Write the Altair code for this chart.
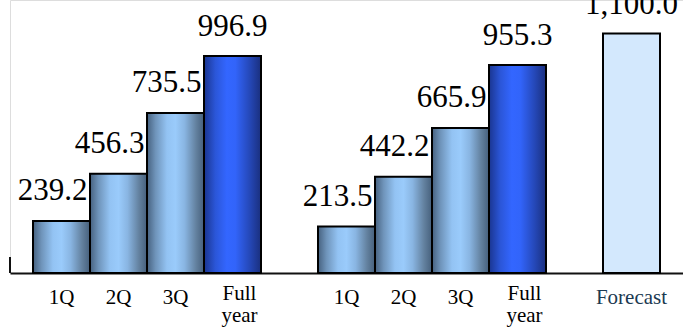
import json

import altair as alt
import pandas as pd

# Slots along the x axis: two years of cumulative quarters, a spacer after each,
# then the forecast column.
slots = ["q1_a", "q2_a", "q3_a", "fy_a", "gap_a",
         "q1_b", "q2_b", "q3_b", "fy_b", "gap_b", "fc"]
tick_labels = ["1Q", "2Q", "3Q", "Full year", "",
               "1Q", "2Q", "3Q", "Full year", "", "Forecast"]
values = [239.2, 456.3, 735.5, 996.9, None,
          213.5, 442.2, 665.9, 955.3, None, 1100.0]
kinds = ["quarter", "quarter", "quarter", "total", "",
         "quarter", "quarter", "quarter", "total", "", "forecast"]

# short vertical stub at the left end of the baseline
stub = [0, 73.5]

df = pd.DataFrame({"slot": slots, "value": values, "kind": kinds})
df = df[df["kind"] != ""]

FONT = "Times New Roman, Liberation Serif, DejaVu Serif, serif"

label_map = json.dumps(dict(zip(slots, tick_labels)))
is_full_year = "datum.value == 'fy_a' || datum.value == 'fy_b'"

x_enc = alt.X(
    "slot:N",
    sort=slots,
    scale=alt.Scale(domain=slots, paddingInner=0, paddingOuter=23 / 57),
    axis=alt.Axis(
        title=None,
        ticks=False,
        domain=True,
        domainColor="#111111",
        domainWidth=2,
        labelAngle=0,
        labelFont=FONT,
        labelFontSize=21,
        labelLineHeight=22,
        labelBaseline="middle",
        labelPadding={"condition": {"test": is_full_year, "value": 20}, "value": 24},
        labelExpr=f"split({label_map}[datum.value], ' ')",
        labelColor={"condition": {"test": "datum.value == 'fc'", "value": "#1b3a52"},
                    "value": "black"},
        labelOffset={"condition": {"test": is_full_year, "value": 7}, "value": 0},
    ),
)
y_enc = alt.Y("value:Q", scale=alt.Scale(domain=[0, 1254], nice=False, zero=True), axis=None)

quarter_fill = alt.Gradient(
    gradient="linear", x1=0, x2=1, y1=0, y2=0,
    stops=[alt.GradientStop(color="#46617f", offset=0),
           alt.GradientStop(color="#6f94ba", offset=0.15),
           alt.GradientStop(color="#93c3f3", offset=0.35),
           alt.GradientStop(color="#9acbfb", offset=0.5),
           alt.GradientStop(color="#89b5e2", offset=0.66),
           alt.GradientStop(color="#63819f", offset=0.86),
           alt.GradientStop(color="#46607c", offset=1)],
)
total_fill = alt.Gradient(
    gradient="linear", x1=0, x2=1, y1=0, y2=0,
    stops=[alt.GradientStop(color="#1a3590", offset=0),
           alt.GradientStop(color="#2b56d8", offset=0.2),
           alt.GradientStop(color="#3366ff", offset=0.4),
           alt.GradientStop(color="#3264fa", offset=0.55),
           alt.GradientStop(color="#2548b8", offset=0.8),
           alt.GradientStop(color="#1a2f7e", offset=1)],
)

base = alt.Chart(df)

quarter_bars = base.transform_filter("datum.kind == 'quarter'").mark_bar(
    fill=quarter_fill, stroke="black", strokeWidth=2
).encode(x=x_enc, y=y_enc)

total_bars = base.transform_filter("datum.kind == 'total'").mark_bar(
    fill=total_fill, stroke="black", strokeWidth=2
).encode(x=x_enc, y=y_enc)

forecast_bar = base.transform_filter("datum.kind == 'forecast'").mark_bar(
    fill="#d3e8fd", stroke="black", strokeWidth=2
).encode(x=x_enc, y=y_enc)

quarter_text = base.transform_filter("datum.kind == 'quarter'").mark_text(
    font=FONT, fontSize=31, color="black", align="right", baseline="alphabetic",
    dx=26, dy=-21
).encode(x=x_enc, y=y_enc, text=alt.Text("value:Q", format=",.1f"))

total_text = base.transform_filter("datum.kind != 'quarter'").mark_text(
    font=FONT, fontSize=31, color="black", align="center", baseline="alphabetic",
    dy=-20
).encode(x=x_enc, y=y_enc, text=alt.Text("value:Q", format=",.1f"))

stub_rule = alt.Chart(pd.DataFrame({"y0": [stub[0]], "y1": [stub[1]]})).mark_rule(
    color="#111111", strokeWidth=2
).encode(x=alt.value(0), y=alt.Y("y0:Q", scale=alt.Scale(domain=[0, 1254], nice=False), axis=None),
         y2="y1:Q")

chart = alt.layer(
    quarter_bars, total_bars, forecast_bar, quarter_text, total_text, stub_rule
).properties(
    width=673,
    height=273,
    padding={"left": 10, "top": 0, "right": 0, "bottom": 54},
    autosize=alt.AutoSizeParams(type="none"),
    background="white",
).configure_view(stroke=None).configure(font=FONT)

chart.save("out.html", embed_options={"renderer": "svg", "actions": False})
